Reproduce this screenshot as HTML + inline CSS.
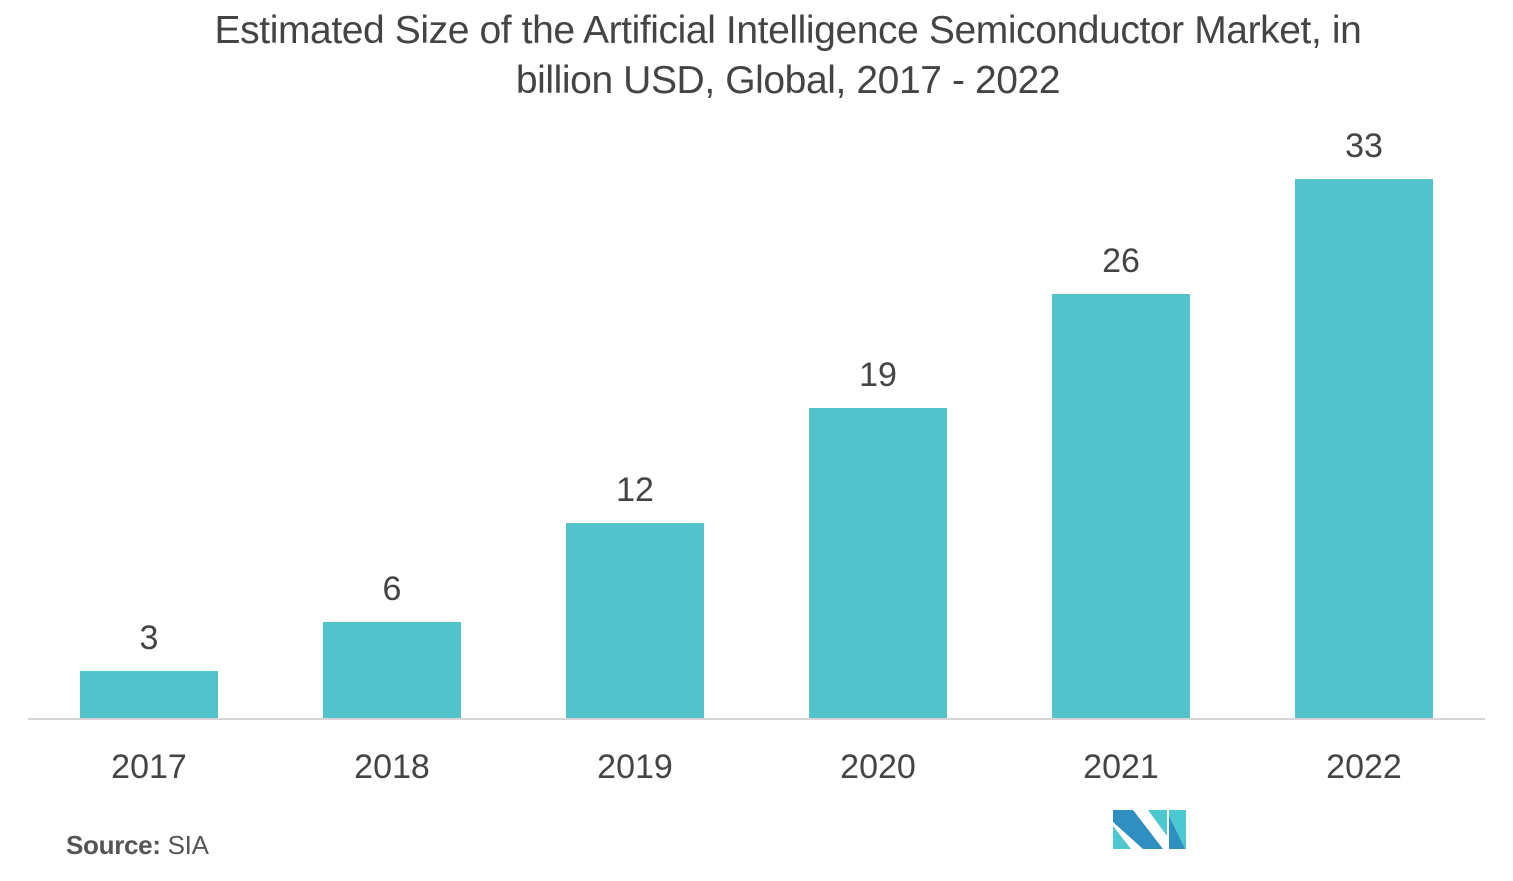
<!DOCTYPE html>
<html><head><style>
body{margin:0;width:1513px;height:881px;background:#fff;font-family:"Liberation Sans",sans-serif;overflow:hidden;position:relative}
.t{position:absolute;left:0;width:1576px;text-align:center;color:#444;font-size:39px;letter-spacing:-0.4px;line-height:50px;top:6px}
.b{position:absolute;background:#52c3ca;width:138px}
.v,.x{position:absolute;width:200px;text-align:center;color:#444;font-size:34px}
.ax{position:absolute;left:28px;width:1457px;top:718px;height:2px;background:#d6d6d6}
.s{position:absolute;left:66px;top:830px;font-size:26px;color:#555;letter-spacing:-0.3px}
</style></head><body>
<div class="t">Estimated Size of the Artificial Intelligence Semiconductor Market, in<br>billion USD, Global, 2017 - 2022</div>
<div class="b" style="left:80px;top:671px;height:48px"></div>
<div class="b" style="left:323px;top:622px;height:97px"></div>
<div class="b" style="left:566px;top:523px;height:196px"></div>
<div class="b" style="left:809px;top:408px;height:311px"></div>
<div class="b" style="left:1052px;top:294px;height:425px"></div>
<div class="b" style="left:1295px;top:179px;height:540px"></div>
<div class="v" style="left:49px;top:619px">3</div>
<div class="v" style="left:292px;top:570px">6</div>
<div class="v" style="left:535px;top:471px">12</div>
<div class="v" style="left:778px;top:356px">19</div>
<div class="v" style="left:1021px;top:242px">26</div>
<div class="v" style="left:1264px;top:127px">33</div>
<div class="ax"></div>
<div class="x" style="left:49px;top:748px">2017</div>
<div class="x" style="left:292px;top:748px">2018</div>
<div class="x" style="left:535px;top:748px">2019</div>
<div class="x" style="left:778px;top:748px">2020</div>
<div class="x" style="left:1021px;top:748px">2021</div>
<div class="x" style="left:1264px;top:748px">2022</div>
<div class="s"><b>Source:</b> SIA</div>
<svg style="position:absolute;left:1113px;top:810px" width="74" height="40" viewBox="0 0 74 40">
<polygon points="0,0 20,0 50,39 30,39 0,12" fill="#2e8fc0"/>
<polygon points="0,16 18,39 0,39" fill="#4cc9d0"/>
<polygon points="35,0 54,0 54,26" fill="#4cc9d0"/>
<polygon points="56,0 73,0 73,39 62,39 56,30" fill="#4cc9d0"/>
<polygon points="56,6 72,39 56,39" fill="#2e8fc0"/>
</svg>
</body></html>
